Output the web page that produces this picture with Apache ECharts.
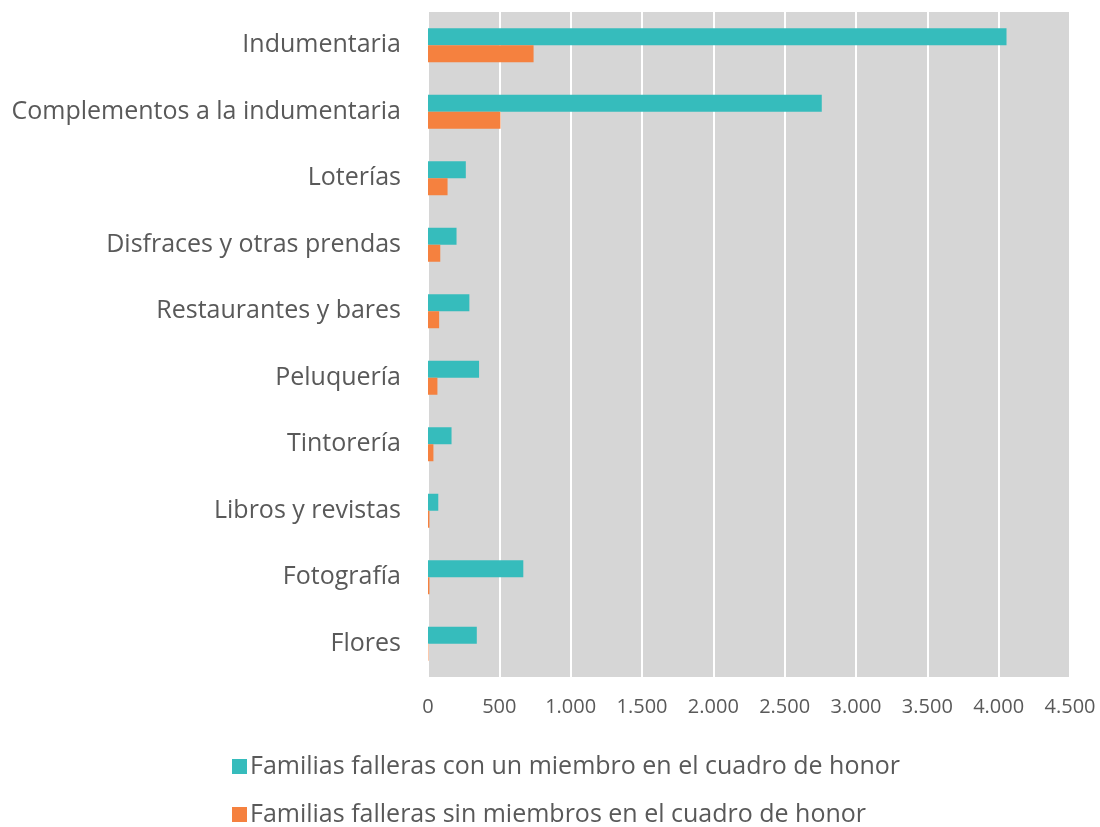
<!DOCTYPE html>
<html>
<head>
<meta charset="utf-8">
<script src="https://cdn.jsdelivr.net/npm/echarts@6/dist/echarts.min.js"></script>
<style>
html,body{margin:0;padding:0;background:#fff;}
#chart{width:1100px;height:827px;}
</style>
</head>
<body>
<div id="chart"></div>
<script>
const categories = ["Indumentaria","Complementos a la indumentaria","Loterías","Disfraces y otras prendas","Restaurantes y bares","Peluquería","Tintorería","Libros y revistas","Fotografía","Flores"];
const conMiembro = [4055, 2760, 265, 200, 290, 358, 165, 72, 668, 342];
const sinMiembro = [740, 508, 137, 86, 78, 66, 38, 10, 10, 3];
const seriesNames = ["Familias falleras con un miembro en el cuadro de honor","Familias falleras sin miembros en el cuadro de honor"];
const xTicks = {min:0, max:4500, interval:500};

const fmt = v => String(v).replace(/\B(?=(\d{3})+(?!\d))/g, ".");
const chart = echarts.init(document.getElementById('chart'));
const font = '"Open Sans", "Noto Sans", sans-serif';
const legendBase = {orient:'vertical', left:227, itemWidth:15, itemHeight:15, icon:'rect',
  textStyle:{color:'#595959', fontSize:25, fontFamily:font, padding:[0,0,0,-2]}};
chart.setOption({
  animation:false,
  textStyle:{fontFamily:font},
  grid:{left:428, right:30, top:12, bottom:150, show:true, backgroundColor:'#d6d6d6', borderWidth:0},
  xAxis:{type:'value', min:xTicks.min, max:xTicks.max, interval:xTicks.interval,
    axisLine:{show:false}, axisTick:{show:false},
    splitLine:{show:true, lineStyle:{color:'#ffffff', width:2}},
    axisLabel:{color:'#595959', fontSize:20, margin:20, fontFamily:font, formatter:fmt}},
  yAxis:{type:'category', data:categories, inverse:true,
    axisLine:{show:true, lineStyle:{color:'#ffffff', width:2}}, axisTick:{show:false},
    axisLabel:{color:'#595959', fontSize:25, margin:27, fontFamily:font}},
  legend:[
    Object.assign({}, legendBase, {top:749, data:[seriesNames[0]]}),
    Object.assign({}, legendBase, {top:797, data:[seriesNames[1]]})
  ],
  series:[
    {name:seriesNames[0], type:'bar', data:conMiembro, barWidth:17, barGap:'0%', itemStyle:{color:'#36bcbc'}},
    {name:seriesNames[1], type:'bar', data:sinMiembro, barWidth:17, barGap:'0%', itemStyle:{color:'#f5813f'}}
  ]
});
</script>
</body>
</html>
